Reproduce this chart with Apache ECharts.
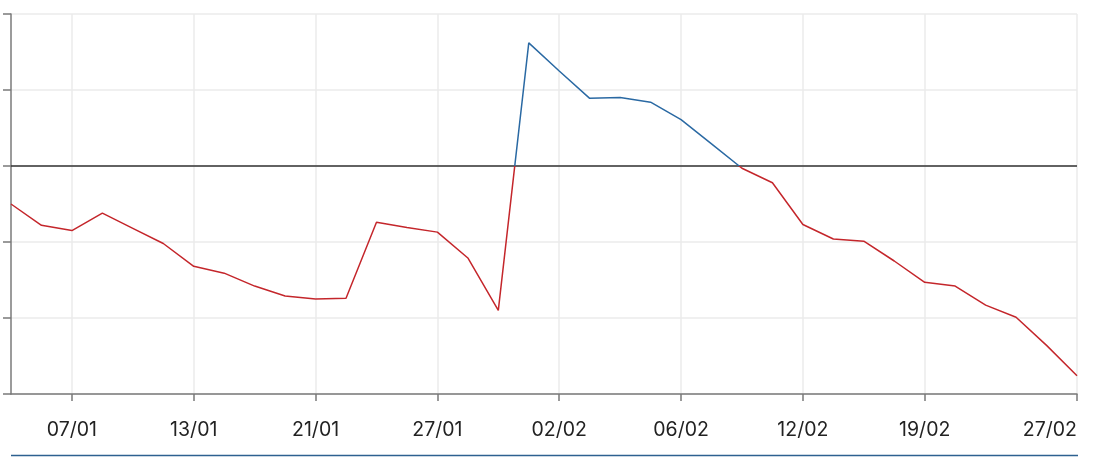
<!DOCTYPE html>
<html>
<head>
<meta charset="utf-8">
<script src="https://cdn.jsdelivr.net/npm/echarts@6/dist/echarts.min.js"></script>
<style>
html,body{margin:0;padding:0;background:#fff;}
#chart{width:1114px;height:457px;}
</style>
</head>
<body>
<div id="chart"></div>
<script>
var dates = ['03/01','06/01','07/01','08/01','09/01','10/01','13/01','14/01','15/01','17/01',
             '21/01','22/01','23/01','24/01','27/01','28/01','29/01','30/01','02/02','03/02',
             '04/02','05/02','06/02','07/02','10/02','11/02','12/02','13/02','14/02','18/02',
             '19/02','20/02','21/02','24/02','26/02','27/02'];
var values = [-0.50,-0.78,-0.85,-0.62,-0.82,-1.02,-1.32,-1.41,-1.58,-1.71,
              -1.75,-1.74,-0.74,-0.81,-0.87,-1.21,-1.90,1.62,1.25,0.89,
              0.90,0.84,0.61,0.29,-0.03,-0.22,-0.77,-0.96,-0.99,-1.25,
              -1.53,-1.58,-1.83,-1.99,-2.36,-2.76];
var baseline = dates.map(function(){ return 0; });
var labelIdx = [2,6,10,14,18,22,26,30,35];

var showIdx = function(i){ return labelIdx.indexOf(i) >= 0; };

var chart = echarts.init(document.getElementById('chart'), null, {renderer:'canvas'});
chart.setOption({
  animation:false,
  grid:{left:11,right:37,top:14,bottom:63,containLabel:false},
  xAxis:{
    type:'category',
    data:dates,
    boundaryGap:false,
    axisLine:{onZero:false,lineStyle:{color:'#7a7a7a',width:1.5}},
    axisTick:{show:true,interval:function(i){return showIdx(i);},length:7,lineStyle:{color:'#7a7a7a',width:1.5}},
    axisLabel:{interval:function(i){return showIdx(i);},margin:26,fontSize:19.5,color:'#222',fontFamily:'Inter',alignMaxLabel:'right'},
    splitLine:{show:true,interval:function(i){return showIdx(i);},lineStyle:{color:'#ebebeb',width:1.5}}
  },
  yAxis:{
    type:'value',
    min:-3,max:2,interval:1,
    axisLine:{show:true,lineStyle:{color:'#7a7a7a',width:1.5}},
    axisTick:{show:true,inside:false,length:8,lineStyle:{color:'#7a7a7a',width:1.5}},
    axisLabel:{show:false},
    splitLine:{show:true,lineStyle:{color:'#ebebeb',width:1.5}}
  },
  visualMap:{
    type:'piecewise',show:false,seriesIndex:1,
    pieces:[{gte:-10,lt:0,color:'#c4262b'},{gte:0,lte:10,color:'#2a69a3'}],
    outOfRange:{color:'#999'}
  },
  series:[{
    type:'line',
    data:baseline,
    symbol:'none',
    silent:true,
    lineStyle:{color:'#333',width:1.5},
    z:1
  },{
    type:'line',
    data:values,
    symbol:'none',
    lineStyle:{width:1.5},
    z:2
  }],
  graphic:[{
    type:'line',
    shape:{x1:11,y1:455.5,x2:1078,y2:455.5},
    style:{stroke:'#2d6190',lineWidth:1.5}
  }]
});
</script>
</body>
</html>
